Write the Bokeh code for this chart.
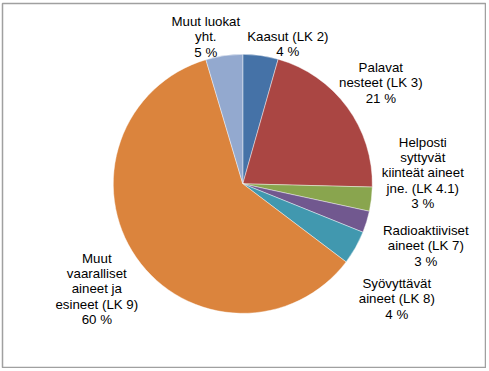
import math
from bokeh.plotting import figure
from bokeh.models import ColumnDataSource, Range1d
from bokeh.core.properties import value
from bokeh.embed import file_html
from bokeh.resources import INLINE

# ---- data ----
categories = [
    "Kaasut (LK 2)",
    "Palavat nesteet (LK 3)",
    "Helposti syttyvät kiinteät aineet jne. (LK 4.1)",
    "Radioaktiiviset aineet (LK 7)",
    "Syövyttävät aineet (LK 8)",
    "Muut vaaralliset aineet ja esineet (LK 9)",
    "Muut luokat yht.",
]
shares = [4.4, 21.0, 3.0, 2.7, 4.2, 60.1, 4.6]
label_texts = [
    "Kaasut (LK 2)\n4 %",
    "Palavat\nnesteet (LK 3)\n21 %",
    "Helposti\nsyttyvät\nkiinteät aineet\njne. (LK 4.1)\n3 %",
    "Radioaktiiviset\naineet (LK 7)\n3 %",
    "Syövyttävät\naineet (LK 8)\n4 %",
    "Muut\nvaaralliset\naineet ja\nesineet (LK 9)\n60 %",
    "Muut luokat\nyht.\n5 %",
]
colors = ["#4572A7", "#AA4643", "#89A54E", "#71588F", "#4198AF", "#DB843D", "#93A9CF"]

# label placement: block centre offsets from pie centre (px, y up)
label_dx = [45, 138, 180, 183, 154, -146, -37]
label_dy = [140, 101, 11, -62, -115, -105, 147]
LINE_H = 15.3

# ---- geometry ----
W, H = 486, 368
BL, BT, BR, BB = 2, 3, 1, 1          # space around the bordered frame
FW, FH = W - BL - BR, H - BT - BB
cx_frame, cy_frame = 242.3 - BL, 183.3 - BT   # pie centre inside the frame
R = 129.5

total = sum(shares)
starts, ends = [], []
acc = 0.0
for s in shares:
    starts.append(math.pi / 2 - 2 * math.pi * acc / total)
    acc += s
    ends.append(math.pi / 2 - 2 * math.pi * acc / total)

src = ColumnDataSource(dict(cat=categories, share=shares, start=starts, end=ends, color=colors))

lx, ly, lt = [], [], []
for dx, dy, t in zip(label_dx, label_dy, label_texts):
    lines = t.split("\n")
    n = len(lines)
    for i, line in enumerate(lines):
        lx.append(dx)
        ly.append(dy + ((n - 1) / 2 - i) * LINE_H)
        lt.append(line)
lab = ColumnDataSource(dict(x=lx, y=ly, text=lt))

p = figure(width=W, height=H, output_backend="svg", toolbar_location=None,
           x_range=Range1d(-cx_frame, FW - cx_frame),
           y_range=Range1d(-(FH - cy_frame), cy_frame),
           min_border_left=BL, min_border_top=BT, min_border_right=BR, min_border_bottom=BB,
           background_fill_color="white", border_fill_color="white")
p.axis.visible = False
p.grid.visible = False
p.outline_line_color = "#a0a0a0"
p.outline_line_width = 1.5

p.wedge(x=0, y=0, radius=R, start_angle="start", end_angle="end", direction="clock",
        fill_color="color", line_color="white", line_width=0.6, line_alpha=0.7, source=src)

p.text(x="x", y="y", text="text", source=lab, text_align="center", text_baseline="middle",
       text_font=value("Liberation Sans"), text_font_size="13.3px", text_color="black")

open("out.html", "w").write(file_html(p, INLINE))
